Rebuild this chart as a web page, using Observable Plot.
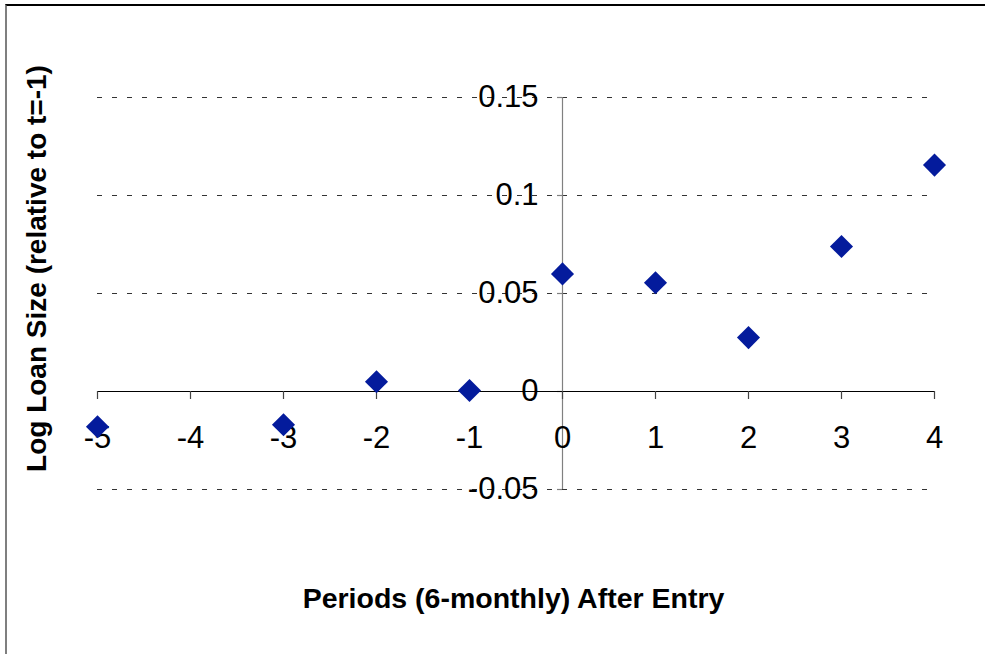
<!DOCTYPE html>
<html><head><meta charset="utf-8">
<script src="https://cdn.jsdelivr.net/npm/d3@7"></script>
<script src="https://cdn.jsdelivr.net/npm/@observablehq/plot@0.6"></script>
<style>
body{margin:0;background:#fff;}
#wrap{position:relative;width:985px;height:654px;overflow:hidden;background:#fff;}
#wrap svg{position:absolute;left:0;top:0;}
#frame{position:absolute;left:5px;top:4px;width:1000px;height:700px;border-left:2px solid #7f7f7f;border-top:2px solid #000;pointer-events:none;}
</style></head><body><div id="wrap"><div id="frame"></div></div>
<script>
const periods = [-5, -3, -2, -1, 0, 1, 2, 3, 4];
const logLoanSize = [-0.018, -0.017, 0.005, 0.0005, 0.060, 0.0555, 0.0275, 0.074, 0.1155];
const xTicks = [-5, -4, -3, -2, -1, 0, 1, 2, 3, 4];
const xTickLabels = ["-5", "-4", "-3", "-2", "-1", "0", "1", "2", "3", "4"];
const yTicks = [-0.05, 0, 0.05, 0.1, 0.15];
const yTickLabels = ["-0.05", "0", "0.05", "0.1", "0.15"];
const xTitle = "Periods (6-monthly) After Entry";
const yTitle = "Log Loan Size (relative to t=-1)";

const data = periods.map((p, i) => ({period: p, value: logLoanSize[i]}));
const font = "'Liberation Sans', Arial, sans-serif";

const chart = Plot.plot({
  width: 985, height: 654,
  marginLeft: 97, marginRight: 51, marginTop: 97, marginBottom: 165,
  style: {fontFamily: font, background: "transparent", overflow: "visible"},
  x: {domain: [-5, 4], axis: null},
  y: {domain: [-0.05, 0.15], axis: null},
  marks: [
    Plot.ruleY(yTicks.filter(d => d !== 0), {stroke: "#333", strokeDasharray: "5,10", strokeWidth: 1.1}),
    Plot.ruleX([0], {stroke: "#808080", strokeWidth: 1.2}),
    Plot.ruleY(yTicks, {y: d => d, x1: 0, x2: 0, insetLeft: -5, stroke: "#808080", strokeWidth: 1.2}),
    Plot.ruleY([0], {stroke: "#000", strokeWidth: 1.2}),
    Plot.ruleX(xTicks, {x: d => d, y1: 0, y2: 0, insetBottom: -8, stroke: "#444", strokeWidth: 1.2}),
    Plot.text(yTicks, {x: () => 0, y: d => d, text: (d, i) => yTickLabels[i], textAnchor: "end", lineAnchor: "middle", dx: -24, fontSize: 31, fill: "#000"}),
    Plot.text(xTicks, {x: d => d, y: () => 0, text: (d, i) => xTickLabels[i], textAnchor: "middle", lineAnchor: "middle", dy: 47, fontSize: 31, fill: "#000"}),
    Plot.dot(data, {x: "period", y: "value", symbol: "diamond2", r: 10.4, fill: "#041b9c", stroke: "none"}),
    Plot.text([yTitle], {frameAnchor: "left", text: d => d, rotate: -90, textAnchor: "middle", lineAnchor: "middle", dx: -60, dy: -25, fontSize: 28, fontWeight: "bold", fill: "#000"}),
    Plot.text([xTitle], {frameAnchor: "bottom", text: d => d, textAnchor: "middle", lineAnchor: "middle", dx: -2.5, dy: 109, fontSize: 28.5, fontWeight: "bold", fill: "#000"})
  ]
});
document.getElementById("wrap").prepend(chart);
</script>
</body></html>
